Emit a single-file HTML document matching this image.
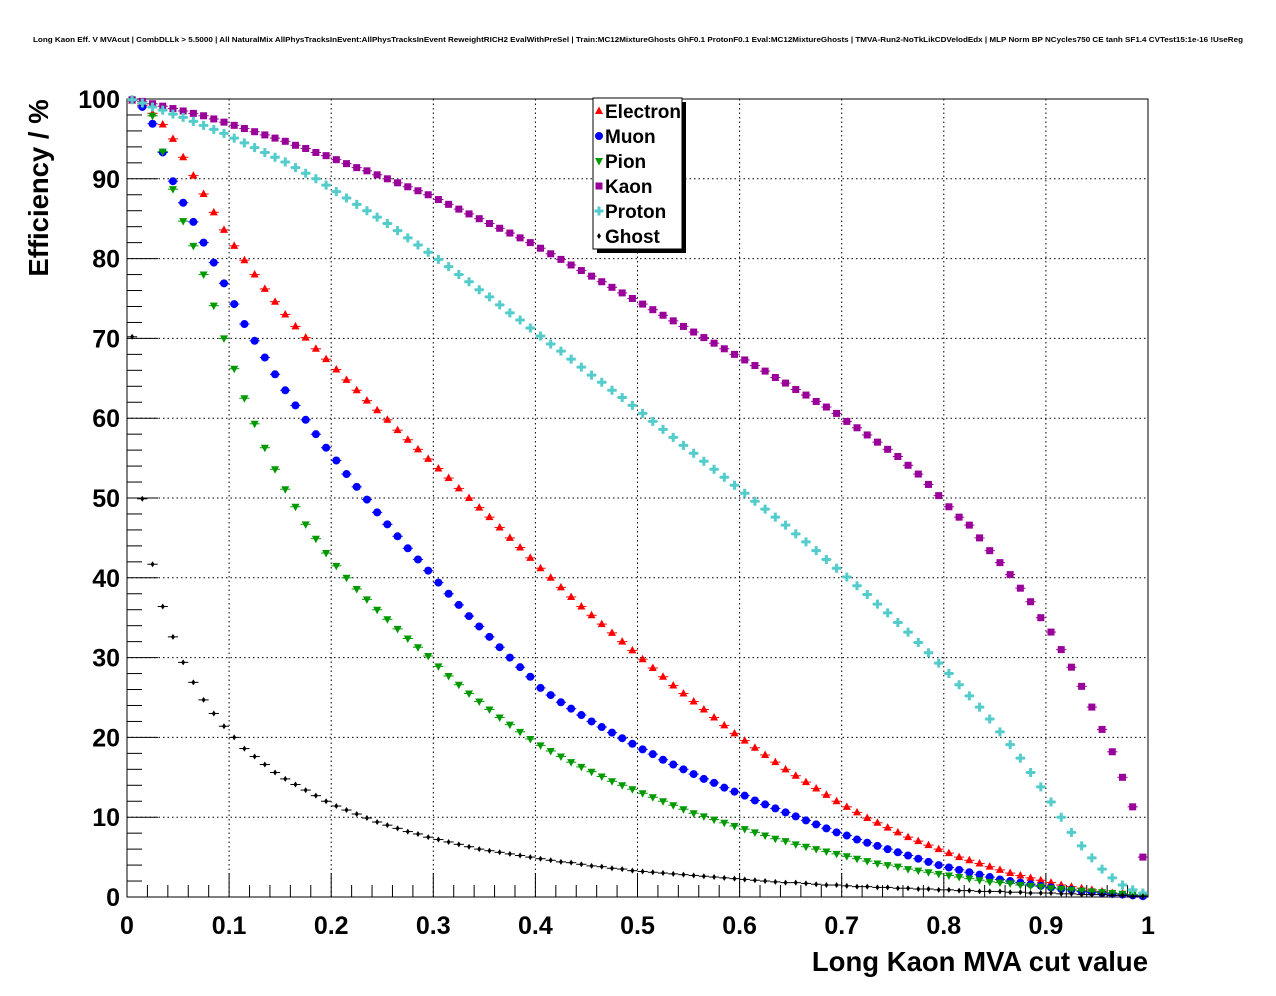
<!DOCTYPE html>
<html><head><meta charset="utf-8">
<style>
html,body{margin:0;padding:0;background:#fff;}
svg{display:block;font-family:"Liberation Sans",Arial,sans-serif;}
</style></head>
<body>
<svg id="chart" width="1276" height="996" viewBox="0 0 1276 996">
<text x="33" y="42" font-size="7.6" font-weight="bold" textLength="1210" lengthAdjust="spacingAndGlyphs">Long Kaon Eff. V MVAcut | CombDLLk &gt; 5.5000 | All NaturalMix AllPhysTracksInEvent:AllPhysTracksInEvent ReweightRICH2 EvalWithPreSel | Train:MC12MixtureGhosts GhF0.1 ProtonF0.1 Eval:MC12MixtureGhosts | TMVA-Run2-NoTkLikCDVelodEdx | MLP Norm BP NCycles750 CE tanh SF1.4 CVTest15:1e-16 !UseReg</text>
<g id="grid"></g>
<g id="axes"></g>
<g id="marks"></g>
<text x="48" y="188" font-size="27.5" font-weight="bold" text-anchor="middle" transform="rotate(-90 48 188)">Efficiency / %</text>
<text x="1148" y="971" font-size="27.5" font-weight="bold" text-anchor="end">Long Kaon MVA cut value</text>
<g id="legend"></g>
</svg>
<script>
const names = ["Electron","Muon","Pion","Kaon","Proton","Ghost"];
const xTicks = [0,0.1,0.2,0.3,0.4,0.5,0.6,0.7,0.8,0.9,1];
const xTickLabels = ["0","0.1","0.2","0.3","0.4","0.5","0.6","0.7","0.8","0.9","1"];
const yTicks = [0,10,20,30,40,50,60,70,80,90,100];
const yTickLabels = ["0","10","20","30","40","50","60","70","80","90","100"];
const electron = [99.8,99.2,98.2,96.8,95.0,92.7,90.4,88.1,85.8,83.6,
81.6,79.8,78.0,76.2,74.6,73.0,71.5,70.1,68.7,67.4,
66.1,64.8,63.5,62.2,61.0,59.8,58.5,57.3,56.1,54.9,
53.7,52.5,51.2,50.0,48.8,47.6,46.3,45.0,43.8,42.5,
41.2,40.0,38.8,37.6,36.4,35.3,34.2,33.1,32.0,30.9,
29.8,28.7,27.6,26.5,25.5,24.5,23.5,22.5,21.5,20.5,
19.6,18.7,17.8,16.9,16.0,15.2,14.4,13.6,12.8,12.0,
11.3,10.6,9.9,9.3,8.7,8.1,7.5,7.0,6.5,6.0,
5.5,5.0,4.6,4.2,3.8,3.4,3.0,2.7,2.4,2.1,
1.8,1.5,1.3,1.1,0.9,0.7,0.5,0.4,0.3,0.2];
const muon = [99.9,99.0,96.9,93.3,89.7,87.0,84.6,82.0,79.5,76.9,
74.3,71.8,69.7,67.6,65.5,63.5,61.6,59.8,58.0,56.3,
54.7,53.0,51.4,49.8,48.2,46.7,45.2,43.7,42.3,40.9,
39.4,38.0,36.6,35.2,33.9,32.6,31.3,30.0,28.8,27.6,
26.2,25.3,24.4,23.6,22.8,22.0,21.3,20.6,19.9,19.2,
18.5,17.9,17.2,16.6,16.0,15.4,14.8,14.3,13.7,13.2,
12.7,12.1,11.6,11.1,10.6,10.1,9.6,9.1,8.6,8.1,
7.7,7.2,6.8,6.4,6.0,5.6,5.2,4.8,4.4,4.0,
3.7,3.4,3.1,2.8,2.5,2.2,2.0,1.8,1.6,1.4,
1.2,1.0,0.9,0.7,0.6,0.5,0.4,0.3,0.2,0.1];
const pion = [99.9,99.4,97.9,93.4,88.7,84.7,81.6,78.0,74.1,70.0,
66.2,62.5,59.3,56.3,53.6,51.1,48.9,46.7,44.9,43.1,
41.5,40.0,38.6,37.3,36.0,34.8,33.6,32.4,31.3,30.2,
28.9,27.7,26.6,25.5,24.5,23.5,22.5,21.6,20.7,19.8,
19.0,18.3,17.6,16.9,16.3,15.7,15.1,14.5,14.0,13.5,
13.0,12.5,12.0,11.5,11.0,10.5,10.1,9.7,9.3,8.9,
8.5,8.1,7.7,7.3,7.0,6.6,6.3,6.0,5.7,5.4,
5.1,4.8,4.5,4.2,4.0,3.8,3.5,3.3,3.1,2.9,
2.7,2.5,2.3,2.1,1.9,1.8,1.7,1.5,1.4,1.3,
1.1,1.0,0.9,0.8,0.7,0.6,0.5,0.4,0.3,0.2];
const kaon = [99.9,99.7,99.4,99.1,98.8,98.5,98.2,97.9,97.5,97.1,
96.7,96.3,95.9,95.5,95.1,94.7,94.2,93.8,93.3,92.9,
92.4,91.9,91.4,91.0,90.5,90.0,89.5,89.0,88.5,88.0,
87.4,86.8,86.2,85.6,85.0,84.4,83.8,83.2,82.6,82.0,
81.3,80.6,79.9,79.2,78.5,77.8,77.1,76.4,75.7,75.0,
74.3,73.6,72.9,72.2,71.5,70.8,70.1,69.4,68.7,68.0,
67.3,66.6,65.9,65.1,64.4,63.6,62.9,62.1,61.4,60.6,
59.6,58.8,57.9,57.0,56.1,55.2,54.1,53.0,51.7,50.3,
48.9,47.6,46.6,45.0,43.4,41.9,40.4,38.7,37.0,35.0,
33.2,31.0,28.8,26.4,23.8,21.0,18.2,15.0,11.3,5.0];
const proton = [99.9,99.5,99.0,98.6,98.1,97.7,97.2,96.7,96.2,95.7,
95.1,94.5,93.9,93.3,92.7,92.1,91.4,90.7,90.0,89.2,
88.4,87.6,86.8,86.0,85.2,84.4,83.5,82.6,81.7,80.8,
79.9,79.0,78.0,77.1,76.1,75.2,74.2,73.2,72.3,71.3,
70.3,69.3,68.4,67.4,66.4,65.4,64.5,63.5,62.6,61.6,
60.6,59.6,58.6,57.6,56.6,55.6,54.6,53.6,52.6,51.6,
50.6,49.6,48.6,47.6,46.6,45.5,44.5,43.4,42.3,41.2,
40.1,39.0,37.9,36.7,35.6,34.4,33.2,31.9,30.6,29.3,
28.0,26.6,25.2,23.8,22.3,20.7,19.1,17.4,15.6,13.8,
11.9,10.0,8.1,6.4,4.9,3.5,2.4,1.5,0.9,0.5];
const ghost = [70.2,49.9,41.7,36.4,32.6,29.4,26.9,24.7,23.0,21.4,
20.0,18.6,17.6,16.6,15.6,14.8,14.1,13.4,12.7,12.0,
11.4,10.9,10.4,9.9,9.4,9.0,8.6,8.2,7.9,7.5,
7.2,6.9,6.6,6.3,6.0,5.8,5.6,5.4,5.2,5.0,
4.8,4.6,4.4,4.3,4.1,3.9,3.8,3.6,3.5,3.3,
3.2,3.1,3.0,2.9,2.8,2.7,2.6,2.5,2.4,2.3,
2.2,2.1,2.0,1.9,1.8,1.8,1.7,1.6,1.5,1.5,
1.4,1.3,1.3,1.2,1.2,1.1,1.1,1.0,1.0,0.9,
0.9,0.8,0.8,0.7,0.7,0.7,0.6,0.6,0.5,0.5,
0.5,0.4,0.4,0.3,0.3,0.3,0.2,0.2,0.1,0.1];

const NS='http://www.w3.org/2000/svg';
const X0=127,X1=1148,Y0=897,Y1=99;
function sx(v){return X0+(X1-X0)*v;}
function sy(v){return Y0-(Y0-Y1)*v/100;}
function mk(tag,attrs,parent){const e=document.createElementNS(NS,tag);for(const k in attrs)e.setAttribute(k,attrs[k]);parent.appendChild(e);return e;}
const grid=document.getElementById('grid'),axes=document.getElementById('axes'),marks=document.getElementById('marks'),legend=document.getElementById('legend');

const fr=mk('rect',{x:X0,y:Y1,width:X1-X0,height:Y0-Y1,fill:'none',stroke:'#000','stroke-width':1},axes);



xTicks.forEach((t,i)=>{
  const x=sx(t);
  if(i>0&&i<xTicks.length-1){
    const g=mk('line',{x1:x,y1:Y1,x2:x,y2:Y0,stroke:'#000','stroke-dasharray':'1.5,3','stroke-width':1},grid);
    
    
  }
  const tk=mk('line',{x1:x,y1:Y0,x2:x,y2:Y0-24,stroke:'#000','stroke-width':1},axes);
  
  
  if(i<xTicks.length-1){for(let m=1;m<5;m++){const xm=sx(t+(xTicks[i+1]-t)*m/5);
    const mt=mk('line',{x1:xm,y1:Y0,x2:xm,y2:Y0-12,stroke:'#000','stroke-width':1},axes);
    
    }}
  const lb=mk('text',{x:x,y:934,'font-size':25,'font-weight':'bold','text-anchor':'middle'},axes);
  lb.textContent=xTickLabels[i];
  
  
});
yTicks.forEach((t,i)=>{
  const y=sy(t);
  if(i>0&&i<yTicks.length-1){
    const g=mk('line',{x1:X0,y1:y,x2:X1,y2:y,stroke:'#000','stroke-dasharray':'1.5,3','stroke-width':1},grid);
    
    
  }
  const tk=mk('line',{x1:X0,y1:y,x2:X0+31,y2:y,stroke:'#000','stroke-width':1},axes);
  
  
  if(i<yTicks.length-1){for(let m=1;m<5;m++){const ym=sy(t+(yTicks[i+1]-t)*m/5);
    const mt=mk('line',{x1:X0,y1:ym,x2:X0+15,y2:ym,stroke:'#000','stroke-width':1},axes);
    
    }}
  const lb=mk('text',{x:120,y:y+9,'font-size':25,'font-weight':'bold','text-anchor':'end'},axes);
  lb.textContent=yTickLabels[i];
  
  
});

const colors=['#ff0000','#0000ff','#009900','#990099','#55cccc','#000000'];
const series=[electron,muon,pion,kaon,proton,ghost];
function marker(type,x,y,c,parent){
  let e;
  if(type===0) e=mk('polygon',{points:`${x},${y-4.5} ${x+4},${y+3} ${x-4},${y+3}`,fill:c},parent);
  else if(type===1) e=mk('circle',{cx:x,cy:y,r:4,fill:c},parent);
  else if(type===2) e=mk('polygon',{points:`${x},${y+4.5} ${x+4},${y-3} ${x-4},${y-3}`,fill:c},parent);
  else if(type===3) e=mk('rect',{x:x-3.5,y:y-3.5,width:7,height:7,fill:c},parent);
  else if(type===4) e=mk('path',{d:`M${x-4.5},${y-1.5}h3v-3h3v3h3v3h-3v3h-3v-3h-3z`,fill:c},parent);
  else e=mk('polygon',{points:`${x},${y-3} ${x+2},${y} ${x},${y+3} ${x-2},${y}`,fill:c},parent);
  return e;
}
const bw=(X1-X0)/100;
series.forEach((arr,s)=>{
  const g=mk('g',{},marks);
  
  
  arr.forEach((v,i)=>{
    const x=sx((i+0.5)/100),y=sy(v);
    const eb=mk('line',{x1:x-bw/2,y1:y,x2:x+bw/2,y2:y,stroke:colors[s],'stroke-width':1},g);
    
    
    const m=marker(s,x,y,colors[s],g);
    
    
  });
});

const LX=593,LY=98,LW=89,LH=151;
const sh=mk('rect',{x:LX+4,y:LY+4,width:LW,height:LH,fill:'#000'},legend);


const lbx=mk('rect',{x:LX,y:LY,width:LW,height:LH,fill:'#fff',stroke:'#000','stroke-width':1},legend);


names.forEach((n,s)=>{
  const y=LY+13+s*25;
  const m=marker(s,LX+6,y,colors[s],legend);
  
  
  const t=mk('text',{x:LX+12,y:y+7,'font-size':19,'font-weight':'bold'},legend);
  t.textContent=n;
  
  
});
</script>
</body></html>
